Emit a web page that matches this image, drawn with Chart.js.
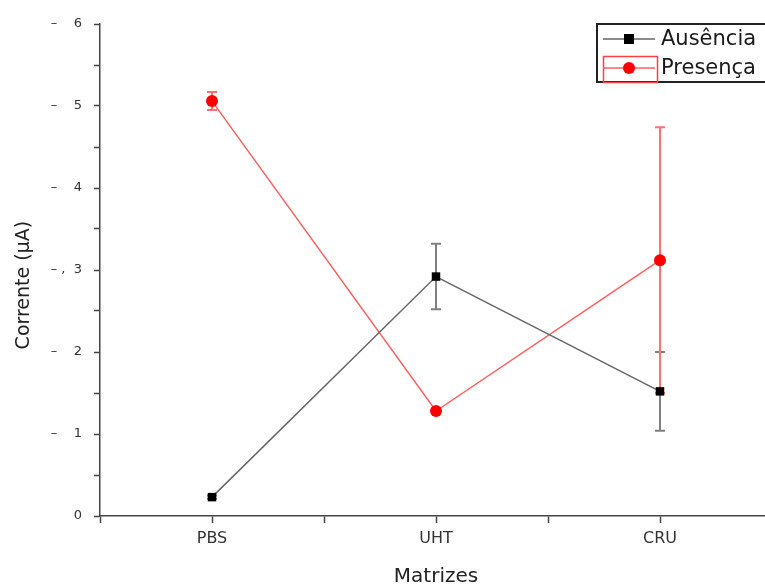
<!DOCTYPE html>
<html>
<head>
<meta charset="utf-8">
<script src="https://cdn.jsdelivr.net/npm/chart.js@4"></script>
<style>
  html, body { margin: 0; padding: 0; background: #fff; overflow: hidden; }
  #wrap { width: 778px; height: 589px; }
</style>
</head>
<body>
<div id="wrap"><canvas id="myChart" width="778" height="589"></canvas></div>
<script>
// categories and values
const categories = ['PBS', 'UHT', 'CRU'];
const ausencia = [0.23, 2.92, 1.52];
const ausenciaErr = [0.02, 0.40, 0.48];
const presenca = [5.06, 1.28, 3.12];
const presencaErr = [0.11, 0.03, 1.62];
const yTicks = [0, 1, 2, 3, 4, 5, 6];

const ctx = document.getElementById('myChart').getContext('2d');
const font = "'DejaVu Sans', sans-serif";

// error bars, drawn through the scales
const errorBars = {
    id: 'errorBars',
    beforeDatasetsDraw(chart) {
        const c = chart.ctx;
        const xs = chart.scales.x, ys = chart.scales.y;
        chart.data.datasets.forEach(ds => {
            c.save();
            c.strokeStyle = ds.errColor;
            c.lineWidth = 2;
            ds.data.forEach((p, i) => {
                const e = ds.errors[i];
                const px = xs.getPixelForValue(p.x);
                const top = ys.getPixelForValue(p.y + e);
                const bot = ys.getPixelForValue(p.y - e);
                c.beginPath();
                c.moveTo(px, top); c.lineTo(px, bot);
                c.moveTo(px - 5, top); c.lineTo(px + 5, top);
                c.moveTo(px - 5, bot); c.lineTo(px + 5, bot);
                c.stroke();
            });
            c.restore();
        });
    }
};

// legend box in the top right corner
const boxLegend = {
    id: 'boxLegend',
    afterDraw(chart) {
        const c = chart.ctx;
        c.save();
        c.strokeStyle = '#222';
        c.lineWidth = 2;
        c.strokeRect(597, 24, 200, 58);
        // red frame around the second sample
        c.strokeStyle = '#ff4040';
        c.lineWidth = 1.5;
        c.strokeRect(603.5, 56.5, 54, 26);
        chart.data.datasets.forEach((ds, i) => {
            const y = 39 + i * 29;
            c.strokeStyle = ds.borderColor;
            c.lineWidth = 1.5;
            c.beginPath(); c.moveTo(603, y); c.lineTo(655, y); c.stroke();
            c.fillStyle = ds.pointBackgroundColor;
            if (ds.pointStyle === 'rect') {
                c.fillRect(624, y - 5, 10, 10);
            } else {
                c.beginPath(); c.arc(629, y, 6, 0, Math.PI * 2); c.fill();
            }
            c.fillStyle = '#1a1a1a';
            c.font = '21px ' + font;
            c.textBaseline = 'middle';
            c.fillText(ds.label, 661, y + 1);
        });
        c.restore();
    }
};

new Chart(ctx, {
    type: 'line',
    data: {
        datasets: [
            {
                label: 'Ausência',
                data: ausencia.map((v, i) => ({ x: i, y: v })),
                errors: ausenciaErr,
                errColor: '#808080',
                borderColor: '#666666',
                borderWidth: 1.5,
                pointStyle: 'rect',
                pointRadius: 6,
                pointBackgroundColor: '#000',
                pointBorderColor: '#000',
                pointBorderWidth: 0
            },
            {
                label: 'Presença',
                data: presenca.map((v, i) => ({ x: i, y: v })),
                errors: presencaErr,
                errColor: '#ff7070',
                borderColor: '#ff6060',
                borderWidth: 1.5,
                pointStyle: 'circle',
                pointRadius: 6,
                pointBackgroundColor: '#ff0000',
                pointBorderColor: '#ff0000',
                pointBorderWidth: 0
            }
        ]
    },
    options: {
        responsive: false,
        animation: false,
        layout: { padding: { top: 24, right: 3, left: 0, bottom: 0 } },
        plugins: { legend: { display: false }, tooltip: { enabled: false } },
        scales: {
            x: {
                type: 'linear',
                min: -0.5,
                max: 2.5,
                afterFit: s => { s.height = 73; },
                afterBuildTicks: s => {
                    s.ticks = [-0.5, 0, 0.5, 1, 1.5, 2, 2.5].map(v => ({ value: v }));
                },
                border: { color: '#444', width: 1.5 },
                grid: { drawOnChartArea: false, drawTicks: true, tickLength: 7, color: '#444', tickWidth: 1.5 },
                ticks: {
                    autoSkip: false,
                    maxRotation: 0,
                    padding: 6,
                    color: '#333',
                    font: { family: font, size: 16 },
                    callback: v => Number.isInteger(v) ? categories[v] : ''
                },
                title: {
                    display: true,
                    text: 'Matrizes',
                    color: '#222',
                    padding: { top: 17, bottom: 0 },
                    font: { family: font, size: 20 }
                }
            },
            y: {
                min: 0,
                max: 6,
                afterFit: s => { s.width = 100; },
                afterBuildTicks: s => {
                    const t = [];
                    yTicks.forEach(v => { t.push({ value: v }); if (v < 6) t.push({ value: v + 0.5 }); });
                    s.ticks = t;
                },
                border: { color: '#444', width: 1.5 },
                grid: { drawOnChartArea: false, drawTicks: true, tickLength: 6, color: '#444', tickWidth: 1.5 },
                ticks: {
                    padding: 12,
                    color: '#333',
                    font: { family: font, size: 13 },
                    callback: v => {
                        if (!Number.isInteger(v)) return '';
                        if (v === 0) return '0';
                        return (v === 3 ? '– ,  ' : '–    ') + v;
                    }
                },
                title: {
                    display: true,
                    text: 'Corrente (µA)     ',
                    color: '#222',
                    padding: { top: 13, bottom: 0 },
                    font: { family: font, size: 19 }
                }
            }
        }
    },
    plugins: [errorBars, boxLegend]
});
</script>
</body>
</html>
